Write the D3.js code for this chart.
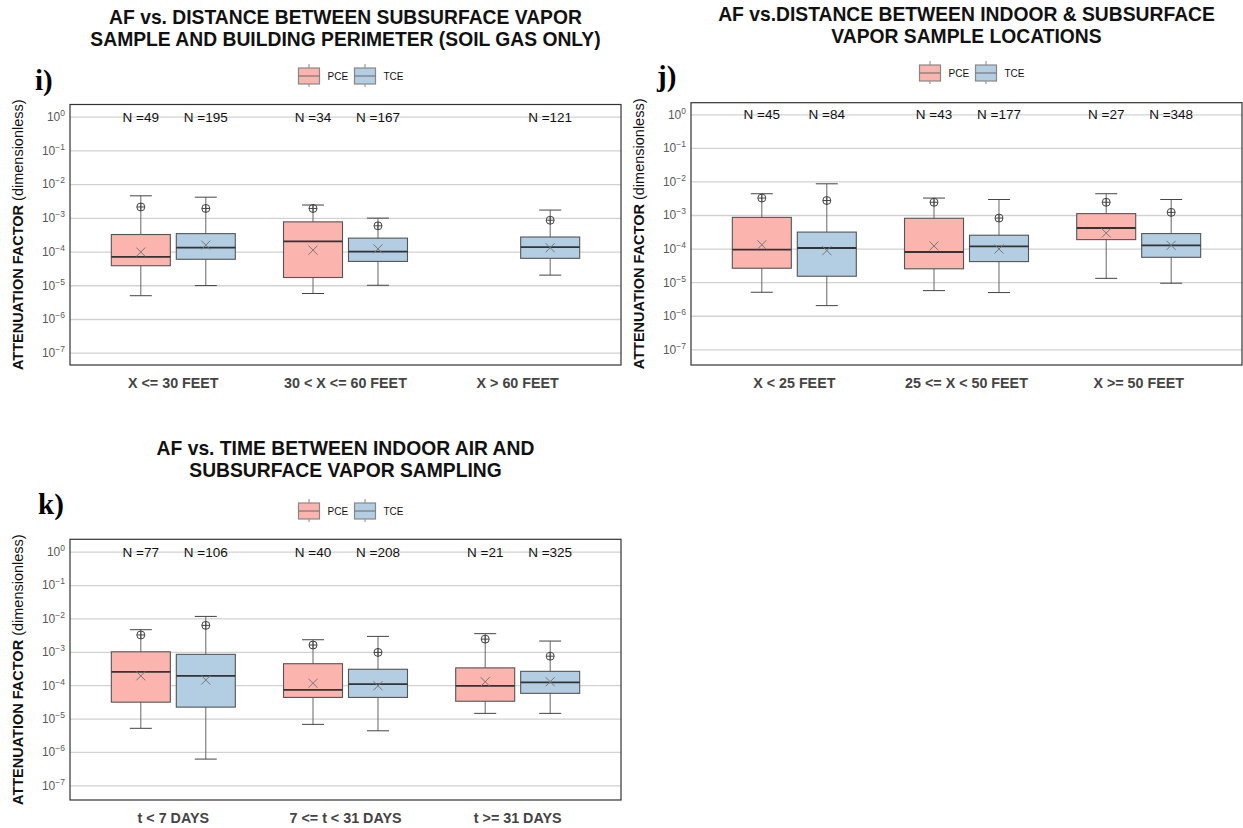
<!DOCTYPE html>
<html>
<head>
<meta charset="utf-8">
<script src="https://cdn.jsdelivr.net/npm/d3@7"></script>
<style>
  body { margin: 0; background: #fff; }
  svg { font-family: "Liberation Sans", Arial, sans-serif; }
</style>
</head>
<body>
<svg id="chart" width="1243" height="828"></svg>
<script>
// ---- data (stats per box: [whisker low, q1, median, q3, whisker high, mean, 95th pct]) ----
var series = ["PCE", "TCE"];
var tickVals = [1e0, 1e-1, 1e-2, 1e-3, 1e-4, 1e-5, 1e-6, 1e-7];

var catI = ["X <= 30 FEET", "30 < X <= 60 FEET", "X > 60 FEET"];
var nI_PCE = [49, 34, null];
var nI_TCE = [195, 167, 121];
var statI_PCE = [
  [4.9e-6, 3.8e-5, 7.0e-5, 3.2e-4, 4.5e-3, 9.7e-5, 2.1e-3],
  [5.7e-6, 1.7e-5, 2.0e-4, 7.6e-4, 2.4e-3, 1.1e-4, 1.9e-3],
  null
];
var statI_TCE = [
  [9.8e-6, 5.9e-5, 1.3e-4, 3.4e-4, 4.1e-3, 1.55e-4, 1.9e-3],
  [1.0e-5, 5.1e-5, 1.0e-4, 2.5e-4, 9.8e-4, 1.2e-4, 5.8e-4],
  [2.0e-5, 6.3e-5, 1.35e-4, 2.7e-4, 1.7e-3, 1.3e-4, 8.5e-4]
];

var catJ = ["X < 25 FEET", "25 <= X < 50 FEET", "X >= 50 FEET"];
var nJ_PCE = [45, 43, 27];
var nJ_TCE = [84, 177, 348];
var statJ_PCE = [
  [5.0e-6, 2.6e-5, 9.3e-5, 8.5e-4, 4.3e-3, 1.3e-4, 3.2e-3],
  [5.6e-6, 2.5e-5, 7.9e-5, 8.0e-4, 3.2e-3, 1.2e-4, 2.4e-3],
  [1.3e-5, 1.85e-4, 4.1e-4, 1.1e-3, 4.3e-3, 2.9e-4, 2.4e-3]
];
var statJ_TCE = [
  [2.0e-6, 1.5e-5, 1.04e-4, 3.1e-4, 8.5e-3, 8.7e-5, 2.7e-3],
  [4.9e-6, 4.1e-5, 1.17e-4, 2.5e-4, 2.9e-3, 9.7e-5, 8.1e-4],
  [9.3e-6, 5.5e-5, 1.25e-4, 2.8e-4, 2.9e-3, 1.25e-4, 1.2e-3]
];

var catK = ["t < 7 DAYS", "7 <= t < 31 DAYS", "t >= 31 DAYS"];
var nK_PCE = [77, 40, 21];
var nK_TCE = [106, 208, 325];
var statK_PCE = [
  [5.1e-6, 3.1e-5, 2.5e-4, 1.0e-3, 4.6e-3, 1.9e-4, 3.2e-3],
  [6.7e-6, 4.3e-5, 7.2e-5, 4.4e-4, 2.3e-3, 1.14e-4, 1.6e-3],
  [1.43e-5, 3.3e-5, 9.6e-5, 3.3e-4, 3.5e-3, 1.27e-4, 2.4e-3]
];
var statK_TCE = [
  [6.1e-7, 2.2e-5, 1.9e-4, 8.4e-4, 1.15e-2, 1.43e-4, 6.2e-3],
  [4.3e-6, 4.3e-5, 1.07e-4, 3.0e-4, 2.9e-3, 9.6e-5, 9.6e-4],
  [1.43e-5, 5.7e-5, 1.22e-4, 2.6e-4, 2.1e-3, 1.27e-4, 7.4e-4]
];

var color = d3.scaleOrdinal().domain(series).range(["#fbb4ae", "#b3cde3"]);

var svg = d3.select("#chart");

function drawPanel(p) {
  var g = svg.append("g");
  var w = p.right - p.left;

  var x = d3.scalePoint().domain(p.cats).range([p.left, p.right]).padding(0.6);
  var step = x.step();
  var sub = d3.scaleBand().domain(series).range([-0.36 * step, 0.36 * step]).paddingInner(0.092);
  var bw = sub.bandwidth();

  // 10^0 and 10^-7 pixel positions given, plot box is a bit larger
  var y = d3.scaleLog().domain([1e-7, 1]).range([p.y7, p.y0]);

  // gridlines
  g.append("g")
    .attr("transform", "translate(" + p.left + ",0)")
    .call(d3.axisLeft(y).tickValues(tickVals).tickSize(-w).tickFormat(""))
    .call(function(a) {
      a.select(".domain").remove();
      a.selectAll("line").attr("stroke", "#d2d2d2").attr("stroke-width", 1.3);
    });

  // tick labels 10^n
  var ax = g.append("g")
    .attr("transform", "translate(" + p.left + ",0)")
    .call(d3.axisLeft(y).tickValues(tickVals).tickSize(0).tickPadding(5).tickFormat(""));
  ax.select(".domain").remove();
  ax.selectAll(".tick text").each(function(d) {
    var t = d3.select(this).attr("font-size", 12).attr("fill", "#595959");
    var e = Math.round(Math.log10(d));
    t.append("tspan").text("10");
    t.append("tspan").attr("dy", -5).attr("font-size", 8.5).text(e === 0 ? "0" : "\u2212" + (-e));
  });

  // boxes
  var boxes = [];
  p.cats.forEach(function(c, i) {
    [p.pce, p.tce].forEach(function(arr, k) {
      if (arr[i]) boxes.push({cat: c, s: series[k], v: arr[i], n: [p.nP, p.nT][k][i]});
    });
  });

  var bg = g.selectAll(".box").data(boxes).enter().append("g")
    .attr("transform", function(d) { return "translate(" + (x(d.cat) + sub(d.s) + bw / 2) + ",0)"; });

  bg.append("line")
    .attr("y1", function(d) { return y(d.v[0]); })
    .attr("y2", function(d) { return y(d.v[4]); })
    .attr("stroke", "#666").attr("stroke-width", 1);
  bg.append("line").attr("x1", -11).attr("x2", 11)
    .attr("y1", function(d) { return y(d.v[4]); }).attr("y2", function(d) { return y(d.v[4]); })
    .attr("stroke", "#444").attr("stroke-width", 1);
  bg.append("line").attr("x1", -11).attr("x2", 11)
    .attr("y1", function(d) { return y(d.v[0]); }).attr("y2", function(d) { return y(d.v[0]); })
    .attr("stroke", "#444").attr("stroke-width", 1);
  bg.append("rect")
    .attr("x", -bw / 2).attr("width", bw)
    .attr("y", function(d) { return y(d.v[3]); })
    .attr("height", function(d) { return y(d.v[1]) - y(d.v[3]); })
    .attr("fill", function(d) { return color(d.s); })
    .attr("stroke", "#555").attr("stroke-width", 1.1);
  bg.append("line").attr("x1", -bw / 2).attr("x2", bw / 2)
    .attr("y1", function(d) { return y(d.v[2]); }).attr("y2", function(d) { return y(d.v[2]); })
    .attr("stroke", "#333").attr("stroke-width", 1.8);
  // mean (x)
  bg.append("path")
    .attr("d", function(d) { var yy = y(d.v[5]); return "M-4.5," + (yy - 4.5) + "L4.5," + (yy + 4.5) + "M-4.5," + (yy + 4.5) + "L4.5," + (yy - 4.5); })
    .attr("stroke", "#777").attr("stroke-width", 1).attr("fill", "none");
  // 95th percentile (circle plus)
  bg.append("circle").attr("r", 4)
    .attr("cy", function(d) { return y(d.v[6]); })
    .attr("fill", "none").attr("stroke", "#444").attr("stroke-width", 1);
  bg.append("path")
    .attr("d", function(d) { var yy = y(d.v[6]); return "M-4," + yy + "L4," + yy + "M0," + (yy - 4) + "L0," + (yy + 4); })
    .attr("stroke", "#444").attr("stroke-width", 1);

  // N labels
  bg.append("text")
    .attr("y", y(1)).attr("dy", "0.36em")
    .attr("text-anchor", "middle").attr("font-size", 13.5).attr("fill", "#111")
    .text(function(d) { return "N =" + d.n; });

  // border
  g.append("rect")
    .attr("x", p.left).attr("y", p.top).attr("width", w).attr("height", p.bottom - p.top)
    .attr("fill", "none").attr("stroke", "#333").attr("stroke-width", 1.2);

  // x labels
  g.selectAll(".xl").data(p.cats).enter().append("text")
    .attr("x", function(d) { return x(d); }).attr("y", p.bottom + 23)
    .attr("text-anchor", "middle").attr("font-size", 14.3).attr("font-weight", "bold").attr("fill", "#444")
    .text(function(d) { return d; });

  // y title
  var yt = g.append("text")
    .attr("transform", "translate(" + (p.left - 47) + "," + ((p.top + p.bottom) / 2) + ") rotate(-90)")
    .attr("text-anchor", "middle").attr("font-size", 14.5).attr("fill", "#111");
  yt.append("tspan").attr("font-weight", "bold").text("ATTENUATION FACTOR ");
  yt.append("tspan").text("(dimensionless)");

  // title
  var cx = (p.left + p.right) / 2;
  p.title.forEach(function(t, i) {
    g.append("text").attr("x", cx).attr("y", p.titleY + i * 22)
      .attr("text-anchor", "middle").attr("font-size", 19.3).attr("font-weight", "bold").attr("fill", "#111")
      .text(t);
  });

  // legend
  var lg = g.append("g").attr("transform", "translate(" + (cx - 47) + "," + p.legY + ")");
  series.forEach(function(s, i) {
    var k = lg.append("g").attr("transform", "translate(" + (i * 56) + ",0)");
    k.append("line").attr("x1", 10.5).attr("x2", 10.5).attr("y1", -12).attr("y2", 11).attr("stroke", "#888");
    k.append("rect").attr("x", 0).attr("y", -8).attr("width", 21).attr("height", 16)
      .attr("fill", color(s)).attr("stroke", "#888").attr("stroke-width", 1.2);
    k.append("line").attr("x1", 0).attr("x2", 21).attr("y1", 0).attr("y2", 0).attr("stroke", "#777").attr("stroke-width", 1.2);
    k.append("text").attr("x", 29).attr("y", 0).attr("dy", "0.36em").attr("font-size", 10).attr("fill", "#111").text(s);
  });

  // panel letter
  g.append("text").attr("x", p.tagX).attr("y", p.tagY)
    .style("font-family", "'Liberation Serif', 'Times New Roman', serif")
    .attr("font-size", 29).attr("font-weight", "bold").attr("fill", "#000")
    .text(p.tag);
}

drawPanel({
  cats: catI, pce: statI_PCE, tce: statI_TCE, nP: nI_PCE, nT: nI_TCE,
  left: 70, right: 621, top: 104.5, bottom: 365, y0: 116.7, y7: 352.7,
  title: ["AF vs. DISTANCE BETWEEN SUBSURFACE VAPOR", "SAMPLE AND BUILDING PERIMETER (SOIL GAS ONLY)"],
  titleY: 24, legY: 76, tag: "i)", tagX: 35, tagY: 90
});
drawPanel({
  cats: catJ, pce: statJ_PCE, tce: statJ_TCE, nP: nJ_PCE, nT: nJ_TCE,
  left: 691, right: 1242, top: 102.7, bottom: 365, y0: 114.3, y7: 349.3,
  title: ["AF vs.DISTANCE BETWEEN INDOOR & SUBSURFACE", "VAPOR SAMPLE LOCATIONS"],
  titleY: 21, legY: 73, tag: "j)", tagX: 657, tagY: 86
});
drawPanel({
  cats: catK, pce: statK_PCE, tce: statK_TCE, nP: nK_PCE, nT: nK_TCE,
  left: 70, right: 621, top: 539.3, bottom: 800, y0: 551.7, y7: 785.3,
  title: ["AF vs. TIME BETWEEN INDOOR AIR AND", "SUBSURFACE VAPOR SAMPLING"],
  titleY: 455, legY: 511, tag: "k)", tagX: 38, tagY: 514
});
</script>
</body>
</html>
